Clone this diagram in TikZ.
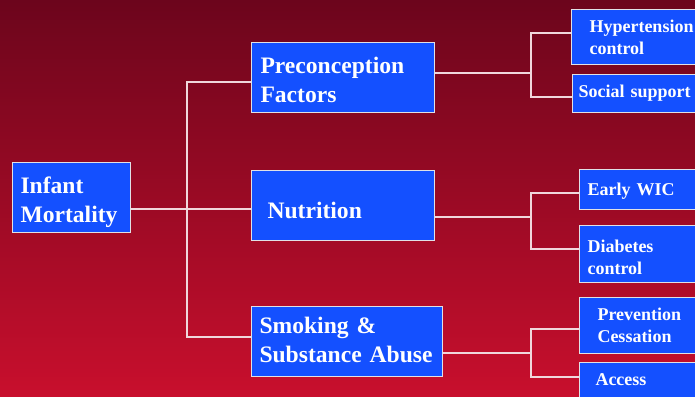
\documentclass[tikz,border=0pt]{standalone}
\usepackage{fontspec}
\setmainfont{Liberation Serif}
\usepackage{tikz}
\usetikzlibrary{calc,positioning}

\definecolor{bgtop}{RGB}{108,5,28}
\definecolor{bgbot}{RGB}{200,15,45}
\definecolor{boxblue}{RGB}{20,80,255}
\definecolor{boxline}{RGB}{225,225,230}
\definecolor{linecol}{RGB}{240,215,220}

\tikzset{
  blk/.style={draw=boxline, fill=boxblue, line width=1pt, text=white,
    font=\bfseries\fontsize{23.6}{29}\selectfont, align=left,
    anchor=north west, inner ysep=0pt},
  leaf/.style={blk, font=\bfseries\fontsize{18}{22}\selectfont},
  link/.style={draw=linecol, line width=1.2pt}
}

\begin{document}
\begin{tikzpicture}[x=1pt,y=-1pt]
        % Фон
        \useasboundingbox (0,0) rectangle (695,396);
        \clip (0,0) rectangle (695,396);
        \shade[top color=bgtop, bottom color=bgbot] (0,0) rectangle (695,396);

        % Головний блок і три фактори
        \node[blk, text height=31pt, text depth=39pt, text width=102pt, inner xsep=8pt] (infant) at (12,162) {Infant\\Mortality};
        \node[blk, text height=31pt, text depth=39pt, text width=165pt, inner xsep=9pt] (precon) at (251,42) {Preconception\\Factors};
        \node[blk, text height=48pt, text depth=22pt, text width=151pt, inner xsep=16pt] (nutri) at (251,170) {Nutrition};
        \node[blk, text height=27pt, text depth=43pt, text width=175pt, inner xsep=8pt] (smoke) at (251,306) {Smoking \&\\Substance Abuse};

        % Праві блоки (обрізані краєм)
        \node[leaf, text height=23pt, text depth=32pt, text width=123pt, inner xsep=18pt] (hyper) at (571,9) {Hypertension\\control};
        \node[leaf, text height=23pt, text depth=15pt, text width=146pt, inner xsep=6pt] (social) at (572,74) {Social support};
        \node[leaf, text height=26pt, text depth=14pt, text width=135pt, inner xsep=8pt] (wic) at (579,169) {Early WIC};
        \node[leaf, text height=27pt, text depth=30pt, text width=135pt, inner xsep=8pt] (diab) at (579,225) {Diabetes\\control};
        \node[leaf, text height=23pt, text depth=33pt, text width=115pt, inner xsep=18pt] (prev) at (579,297) {Prevention\\Cessation};
        \node[leaf, text height=23pt, text depth=17pt, text width=119pt, inner xsep=16pt] (access) at (579,362) {Access};

        % Лівий стовбур
        \coordinate (ta) at (187,82);
        \coordinate (tb) at (187,209);
        \coordinate (tc) at (187,337);
        \draw[link] (infant.east |- tb) -- (tb) -- (nutri.west |- tb);
        \draw[link] (precon.west |- ta) -- (ta) -- (tc) -- (smoke.west |- tc);

        % Праві розгалуження
        \coordinate (pa) at (531,73);
        \coordinate (pa1) at (531,33);
        \coordinate (pa2) at (531,97);
        \draw[link] (precon.east |- pa) -- (pa);
        \draw[link] (hyper.west |- pa1) -- (pa1) -- (pa2) -- (social.west |- pa2);

        \coordinate (pb) at (531,217);
        \coordinate (pb1) at (531,193);
        \coordinate (pb2) at (531,249);
        \draw[link] (nutri.east |- pb) -- (pb);
        \draw[link] (wic.west |- pb1) -- (pb1) -- (pb2) -- (diab.west |- pb2);

        \coordinate (pc) at (531,353);
        \coordinate (pc1) at (531,329);
        \coordinate (pc2) at (531,377);
        \draw[link] (smoke.east |- pc) -- (pc);
        \draw[link] (prev.west |- pc1) -- (pc1) -- (pc2) -- (access.west |- pc2);
    \end{tikzpicture}
\end{document}
